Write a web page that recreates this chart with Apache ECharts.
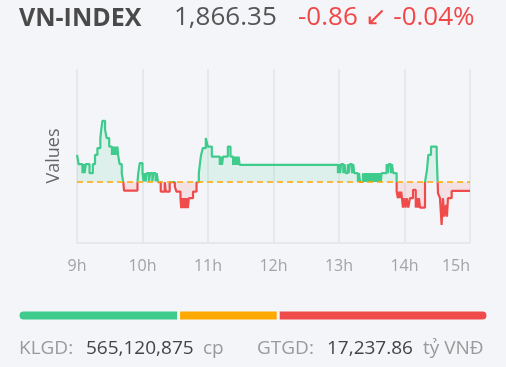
<!DOCTYPE html>
<html>
<head>
<meta charset="utf-8">
<script src="https://cdn.jsdelivr.net/npm/echarts@6/dist/echarts.min.js"></script>
<style>
html, body { margin: 0; padding: 0; background: #f4f5f9; }
#chart { width: 506px; height: 367px; }
</style>
</head>
<body>
<div id="chart"></div>
<script>
// minutes from 09:00, index level
var ticks = [
    [0, 1869.91], [1.5, 1868.99], [5, 1868.10], [6, 1868.99], [7, 1868.10], [8, 1868.99],
    [9, 1868.99], [11.5, 1868.10], [14.5, 1868.99], [16.5, 1869.91], [18.7, 1870.58],
    [21.4, 1871.57], [22.2, 1872.41], [23.3, 1873.28], [25.7, 1872.41], [27.2, 1871.57],
    [29.5, 1870.73], [32, 1869.91], [33, 1870.73], [34, 1869.91], [35, 1870.73], [36, 1869.91],
    [37, 1870.73], [37.6, 1869.91], [39.1, 1868.99], [41, 1868.10], [42.4, 1867.21],
    [43.1, 1866.38], [55.4, 1867.21], [56.1, 1868.10], [57.5, 1869.09], [60, 1868.10],
    [61, 1867.30], [62, 1868.10], [63, 1867.30], [64, 1868.10], [66, 1867.30], [67, 1868.10],
    [69, 1867.30], [70, 1868.10], [72, 1867.30], [73, 1868.10], [74.3, 1867.21],
    [76.7, 1866.28], [80.4, 1867.21], [81.3, 1866.28], [84.9, 1867.21], [89.6, 1866.77],
    [91.1, 1866.28], [94.8, 1865.63], [95.5, 1864.64], [96.5, 1865.63], [97.5, 1864.64],
    [98.5, 1865.63], [99.5, 1864.64], [100.5, 1865.63], [101.5, 1864.64], [102.5, 1865.63],
    [103.3, 1865.63], [106.3, 1866.28], [109.5, 1867.21], [111.6, 1868.10], [113.4, 1869.74],
    [115.2, 1870.58], [118, 1871.57], [119.8, 1870.73], [123.5, 1869.74], [130.8, 1868.92],
    [131.8, 1869.74], [132.8, 1868.92], [133.8, 1869.74], [138.2, 1870.73], [140.6, 1869.74],
    [143, 1868.92], [144, 1869.74], [145, 1868.92], [146, 1869.74], [147, 1868.92],
    [148, 1869.74], [149, 1868.92], [239, 1868.10], [240, 1868.99], [241, 1868.10],
    [242, 1868.99], [244, 1868.10], [245, 1868.99], [246, 1868.10], [248, 1868.99],
    [249, 1868.10], [250, 1868.99], [252, 1868.10], [253, 1868.99], [254, 1868.10],
    [257.3, 1867.25], [258.3, 1868.10], [259.3, 1867.25], [261.9, 1868.10], [262.5, 1867.25],
    [263.5, 1868.10], [264.5, 1867.25], [265.5, 1868.10], [266.5, 1867.25], [267.5, 1868.10],
    [268.5, 1867.25], [269.5, 1868.10], [270.5, 1867.25], [271.5, 1868.10], [272.5, 1867.25],
    [273.5, 1868.10], [274.5, 1867.25], [275.5, 1868.10], [276.5, 1867.25], [277.5, 1868.10],
    [278.3, 1867.25], [279, 1868.10], [283.6, 1868.99], [284.6, 1868.10], [285.6, 1868.99],
    [287.5, 1868.10], [288.5, 1868.99], [289.7, 1868.10], [292.8, 1866.28], [294, 1865.63],
    [295, 1866.28], [296, 1865.63], [297, 1866.28], [298.6, 1864.70], [299.6, 1865.63],
    [301, 1864.70], [302, 1865.63], [303.5, 1864.70], [305, 1865.63], [307.8, 1866.45],
    [310.3, 1864.70], [311.3, 1865.63], [312.3, 1864.70], [313.2, 1865.63], [314.2, 1864.70],
    [318.8, 1867.21], [320.6, 1868.43], [321.8, 1869.91], [324.3, 1870.73], [329.5, 1869.91],
    [330.7, 1866.12], [332.5, 1865.63], [334, 1862.98], [335.2, 1865.63], [336.4, 1863.80],
    [338, 1864.96], [338.9, 1863.80], [339.8, 1865.63], [343.2, 1866.35], [360, 1866.35]
];
var refPrice = 1867.21;
var hourLabels = ['9h', '10h', '11h', '12h', '13h', '14h', '15h'];
// advancing / unchanged / declining
var breadth = [137, 85, 179];
var breadthColors = ['#3ecb8b', '#ffa800', '#ef4b4b'];

var green = '#3ecb8b';
var red = '#ef4b4b';
var bg = '#f4f5f9';
var font = 'Open Sans';

var barSeries = breadth.map(function (v, i) {
    var r = i === 0 ? [5, 0, 0, 5] : (i === breadth.length - 1 ? [0, 5, 5, 0] : 0);
    return {
        type: 'bar',
        xAxisIndex: 1,
        yAxisIndex: 1,
        stack: 'breadth',
        barWidth: 11,
        silent: true,
        data: [v],
        itemStyle: { color: breadthColors[i], borderColor: bg, borderWidth: 1.5, borderRadius: r }
    };
});

option = {
    backgroundColor: bg,
    animation: false,
    textStyle: { fontFamily: font },
    grid: [
        { left: 77, right: 36, top: 69, height: 174 },
        { left: 18, right: 18, top: 310, height: 11 }
    ],
    visualMap: {
        show: false,
        seriesIndex: 0,
        dimension: 1,
        pieces: [
            { gte: 1800, lt: refPrice, color: red },
            { gte: refPrice, lte: 1950, color: green }
        ]
    },
    xAxis: [
        {
            type: 'value',
            min: 0,
            max: 360,
            interval: 60,
            axisLine: { show: true, lineStyle: { color: '#e2e3e7', width: 1.5 } },
            axisTick: { show: false },
            splitLine: { show: true, lineStyle: { color: '#e2e3e7', width: 1.5 } },
            axisLabel: {
                color: '#a3a3a3',
                fontSize: 16,
                margin: 15,
                alignMaxLabel: 'right',
                formatter: function (v) { return hourLabels[v / 60]; }
            }
        },
        { type: 'value', gridIndex: 1, show: false, min: 0, max: breadth[0] + breadth[1] + breadth[2] }
    ],
    yAxis: [
        {
            type: 'value',
            min: 1861.2,
            max: 1878.4,
            name: 'Values',
            nameLocation: 'middle',
            nameGap: 14,
            nameTextStyle: { color: '#666', fontSize: 18 },
            axisLine: { show: false },
            axisTick: { show: false },
            axisLabel: { show: false },
            splitLine: { show: false }
        },
        { type: 'category', gridIndex: 1, show: false, data: ['breadth'] }
    ],
    graphic: [
        { type: 'text', left: 19, top: 6, style: { text: 'VN-INDEX', fill: '#4a4a4a', font: 'bold 25px "Open Sans"' } },
        { type: 'text', left: 174, top: 5, style: { text: '1,866.35', fill: '#555', font: '26px "Open Sans"' } },
        { type: 'text', left: 298, top: 5, style: { text: '-0.86 ↙ -0.04%', fill: '#f04848', font: '26px "Open Sans"' } },
        { type: 'text', left: 19, top: 339, style: { text: 'KLGD:', fill: '#9a9a9a', font: '19px "Open Sans"' } },
        { type: 'text', left: 86, top: 339, style: { text: '565,120,875', fill: '#444', font: '19px "Open Sans"' } },
        { type: 'text', left: 203, top: 339, style: { text: 'cp', fill: '#9a9a9a', font: '19px "Open Sans"' } },
        { type: 'text', left: 257, top: 339, style: { text: 'GTGD:', fill: '#9a9a9a', font: '19px "Open Sans"' } },
        { type: 'text', left: 327, top: 339, style: { text: '17,237.86', fill: '#444', font: '19px "Open Sans"' } },
        { type: 'text', left: 423, top: 339, style: { text: 'tỷ VNĐ', fill: '#9a9a9a', font: '19px "Open Sans"' } }
    ],
    series: [
        {
            type: 'line',
            step: 'end',
            showSymbol: false,
            silent: true,
            data: ticks,
            lineStyle: { width: 2.2 },
            areaStyle: { origin: refPrice, opacity: 0.12 },
            markLine: {
                silent: true,
                symbol: 'none',
                label: { show: false },
                lineStyle: { color: '#ffa800', type: [6, 4], width: 1.6 },
                data: [{ yAxis: refPrice }]
            }
        }
    ].concat(barSeries)
};

var myChart = echarts.init(document.getElementById('chart'));
myChart.setOption(option);
</script>
</body>
</html>
